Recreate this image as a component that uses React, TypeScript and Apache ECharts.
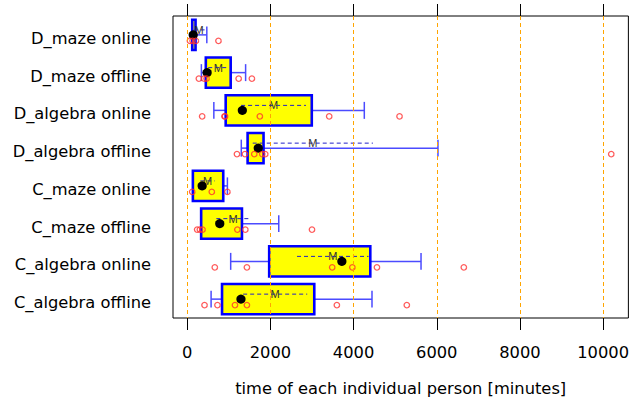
import React, { useEffect, useRef } from 'react';
import * as echarts from 'echarts';

const categories = [
  'D_maze online',
  'D_maze offline',
  'D_algebra online',
  'D_algebra offline',
  'C_maze online',
  'C_maze offline',
  'C_algebra online',
  'C_algebra offline',
];

const whiskerLow = [120, 340, 640, 1300, 136, 335, 1045, 574];
const q1 = [120, 447, 925, 1452, 136, 335, 1971, 837];
const q3 = [200, 1045, 2995, 1835, 866, 1316, 4402, 3055];
const whiskerHigh = [471, 1404, 4258, 6029, 966, 2201, 5622, 4443];
const dotValue = [144, 478, 1325, 1708, 359, 782, 3718, 1292];
const meanValue = [287, 745, 2075, 3020, 490, 1100, 3500, 2115];
const spread = [130, 240, 780, 1445, 175, 400, 860, 770];

const individuals: number[][] = [
  [65, 129, 208, 751],
  [280, 407, 464, 1237, 1555],
  [359, 895, 910, 1746, 3414, 5105],
  [1196, 1388, 1612, 1804, 1876, 10196],
  [120, 591, 966],
  [239, 304, 368, 1206, 1397, 3000],
  [663, 1435, 3486, 3971, 4562, 6651],
  [416, 727, 1148, 1435, 3598, 5280],
];

const tickValues = [0, 2000, 4000, 6000, 8000, 10000];
const xMin = -342;
const xMax = 10608;

const FONT = 'DejaVu Sans';
const FS = 16.3;

export default function App() {
  const ref = useRef<HTMLDivElement>(null);

  useEffect(() => {
    const chart = echarts.init(ref.current!, null, { renderer: 'svg' });

    const boxData = categories.map((_, i) => [
      i,
      whiskerLow[i],
      q1[i],
      q3[i],
      whiskerHigh[i],
      dotValue[i],
      meanValue[i],
      spread[i],
    ]);

    const pointData: number[][] = [];
    individuals.forEach((arr, i) => arr.forEach((v) => pointData.push([v, i])));

    const blue = '#0000ff';
    const whiskerBlue = '#4b4bff';

    const renderItem = (params: any, api: any) => {
      const yi = api.value(0);
      const p = (v: number) => api.coord([v, yi]);
      const band = api.size([0, 1])[1];
      const cy = p(0)[1];
      const boxH = band * 0.8;
      const capH = band * 0.45;
      const wl = p(api.value(1))[0];
      const b1 = p(api.value(2))[0];
      const b3 = p(api.value(3))[0];
      const wh = p(api.value(4))[0];
      const dot = p(api.value(5))[0];
      const m = api.value(6);
      const s = api.value(7);
      const ml = p(m - s)[0];
      const mr = p(m + s)[0];
      const mc = p(m)[0];
      const dy = cy - 5;
      const wStyle = { stroke: whiskerBlue, lineWidth: 1.5 };
      return {
        type: 'group',
        children: [
          { type: 'line', shape: { x1: wl, y1: cy, x2: b1, y2: cy }, style: wStyle },
          { type: 'line', shape: { x1: b3, y1: cy, x2: wh, y2: cy }, style: wStyle },
          { type: 'line', shape: { x1: wl, y1: cy - capH / 2, x2: wl, y2: cy + capH / 2 }, style: wStyle },
          { type: 'line', shape: { x1: wh, y1: cy - capH / 2, x2: wh, y2: cy + capH / 2 }, style: wStyle },
          {
            type: 'rect',
            shape: { x: b1, y: cy - boxH / 2, width: b3 - b1, height: boxH },
            style: { fill: '#ffff00', stroke: blue, lineWidth: 2.6 },
          },
          {
            type: 'line',
            shape: { x1: ml, y1: dy, x2: mr, y2: dy },
            style: { stroke: '#2020c8', lineWidth: 1, lineDash: [4, 3] },
          },
          {
            type: 'text',
            x: mc,
            y: dy,
            style: {
              text: 'M',
              fontSize: 11,
              fontFamily: 'Liberation Sans',
              fill: '#333333',
              align: 'center',
              verticalAlign: 'middle',
            },
          },
          { type: 'circle', shape: { cx: dot, cy: cy, r: 4.6 }, style: { fill: '#000000' } },
        ],
      };
    };

    const option: any = {
      animation: false,
      backgroundColor: '#ffffff',
      grid: {
        left: 173,
        right: 1,
        top: 16,
        bottom: 75,
        show: true,
        borderColor: '#000000',
        borderWidth: 1,
        backgroundColor: 'transparent',
      },
      xAxis: [
        {
          type: 'value',
          position: 'bottom',
          min: xMin,
          max: xMax,
          axisLine: { show: false },
          axisTick: {
            show: true,
            length: 12,
            inside: false,
            customValues: tickValues,
            lineStyle: { color: '#000000', width: 1 },
          },
          axisLabel: {
            show: true,
            customValues: tickValues,
            formatter: (v: number) => String(v),
            margin: 26,
            fontSize: FS,
            fontFamily: FONT,
            color: '#000000',
          },
          splitLine: { show: false },
          name: 'time of each individual person [minutes]',
          nameLocation: 'middle',
          nameGap: 62,
          nameTextStyle: { fontSize: FS, fontFamily: FONT, color: '#000000' },
        },
        {
          type: 'value',
          position: 'top',
          min: xMin,
          max: xMax,
          axisLine: { show: false },
          axisTick: {
            show: true,
            length: 12,
            inside: false,
            customValues: tickValues,
            lineStyle: { color: '#000000', width: 1 },
          },
          axisLabel: { show: false },
          splitLine: { show: false },
        },
      ],
      yAxis: {
        type: 'category',
        data: categories,
        inverse: true,
        axisLine: { show: false },
        axisTick: { show: false },
        splitLine: { show: false },
        axisLabel: {
          margin: 22,
          fontSize: FS,
          fontFamily: FONT,
          color: '#000000',
          formatter: (v: string) => '{a|' + v + '}',
          rich: {
            a: {
              fontSize: FS,
              fontFamily: FONT,
              color: '#000000',
              padding: [7, 0, 0, 0],
            },
          },
        },
      },
      series: [
        {
          type: 'scatter',
          xAxisIndex: 0,
          data: [],
          z: 1,
          silent: true,
          markLine: {
            silent: true,
            symbol: 'none',
            label: { show: false },
            lineStyle: { color: '#ffa500', width: 1, type: [4, 3] },
            data: tickValues.map((v) => ({ xAxis: v })),
          },
        },
        {
          type: 'custom',
          xAxisIndex: 0,
          renderItem,
          data: boxData,
          encode: { x: [1, 2, 3, 4, 5, 6], y: 0 },
          z: 2,
          silent: true,
        },
        {
          type: 'scatter',
          xAxisIndex: 0,
          data: pointData,
          symbol: 'circle',
          symbolSize: 5.5,
          symbolOffset: [0, 6],
          itemStyle: { color: 'none', borderColor: '#ff3030', borderWidth: 1.3 },
          z: 3,
          silent: true,
        },
      ],
    };

    chart.setOption(option);
    return () => chart.dispose();
  }, []);

  return (
    <div
      ref={ref}
      style={{ position: 'absolute', left: 0, top: 0, width: 632, height: 401 }}
    />
  );
}
